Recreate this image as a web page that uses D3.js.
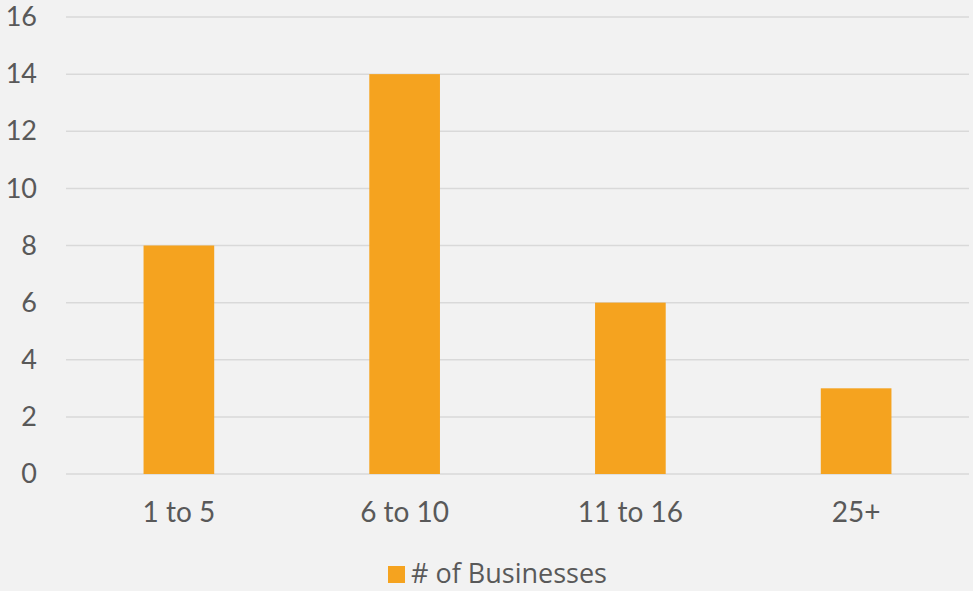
<!DOCTYPE html>
<html>
<head>
<meta charset="utf-8">
<script src="https://cdn.jsdelivr.net/npm/d3@7"></script>
<style>
  html, body { margin: 0; padding: 0; background: #f2f2f2; }
  svg { display: block; }
</style>
</head>
<body>
<svg id="chart" width="973" height="591"></svg>
<script>
// Business size groups and how many businesses fall in each
const categories = ["1 to 5", "6 to 10", "11 to 16", "25+"];
const businessCounts = [8, 14, 6, 3];
const yTicks = [0, 2, 4, 6, 8, 10, 12, 14, 16];
const seriesName = "# of Businesses";

const width = 973, height = 591;
const margin = { top: 17, right: 4, bottom: 117, left: 66 };
const textColor = "#595959";
const barColor = "#F5A31F";
const gridColor = "#d9d9d9";
const axisFont = "Lato, 'Open Sans', sans-serif";

const svg = d3.select("#chart");
svg.append("rect").attr("width", width).attr("height", height).attr("fill", "#f2f2f2");

const x = d3.scaleBand()
  .domain(categories)
  .range([margin.left, width - margin.right])
  .paddingInner(0.687)
  .paddingOuter(0.3435);

const y = d3.scaleLinear()
  .domain([0, 16])
  .range([height - margin.bottom, margin.top]);

// horizontal gridlines
svg.append("g")
  .selectAll("line")
  .data(yTicks)
  .join("line")
  .attr("x1", margin.left)
  .attr("x2", width - margin.right)
  .attr("y1", d => y(d))
  .attr("y2", d => y(d))
  .attr("stroke", gridColor)
  .attr("stroke-width", 1.5);

// bars
svg.append("g")
  .selectAll("rect")
  .data(categories.map((c, i) => ({ c, v: businessCounts[i] })))
  .join("rect")
  .attr("x", d => x(d.c))
  .attr("width", x.bandwidth())
  .attr("y", d => y(d.v))
  .attr("height", d => y(0) - y(d.v))
  .attr("fill", barColor);

// y axis labels
const yAxis = svg.append("g")
  .attr("transform", `translate(${margin.left},0)`)
  .call(d3.axisLeft(y).tickValues(yTicks).tickSize(0).tickPadding(29));
yAxis.select(".domain").remove();
yAxis.selectAll("text")
  .attr("fill", textColor)
  .style("font-family", axisFont)
  .style("font-size", "27px");

// x axis labels
const xAxis = svg.append("g")
  .attr("transform", `translate(0,${y(0)})`)
  .call(d3.axisBottom(x).tickSize(0).tickPadding(28));
xAxis.select(".domain").remove();
xAxis.selectAll("text")
  .attr("fill", textColor)
  .style("font-family", axisFont)
  .style("font-size", "28px");

// legend
const legend = svg.append("g").attr("transform", "translate(388,566)");
legend.append("rect")
  .attr("width", 17).attr("height", 17)
  .attr("fill", barColor);
legend.append("text")
  .attr("x", 23)
  .attr("y", 17)
  .attr("fill", textColor)
  .style("font-family", "'Open Sans', sans-serif")
  .style("font-size", "27px")
  .text(seriesName);
</script>
</body>
</html>
